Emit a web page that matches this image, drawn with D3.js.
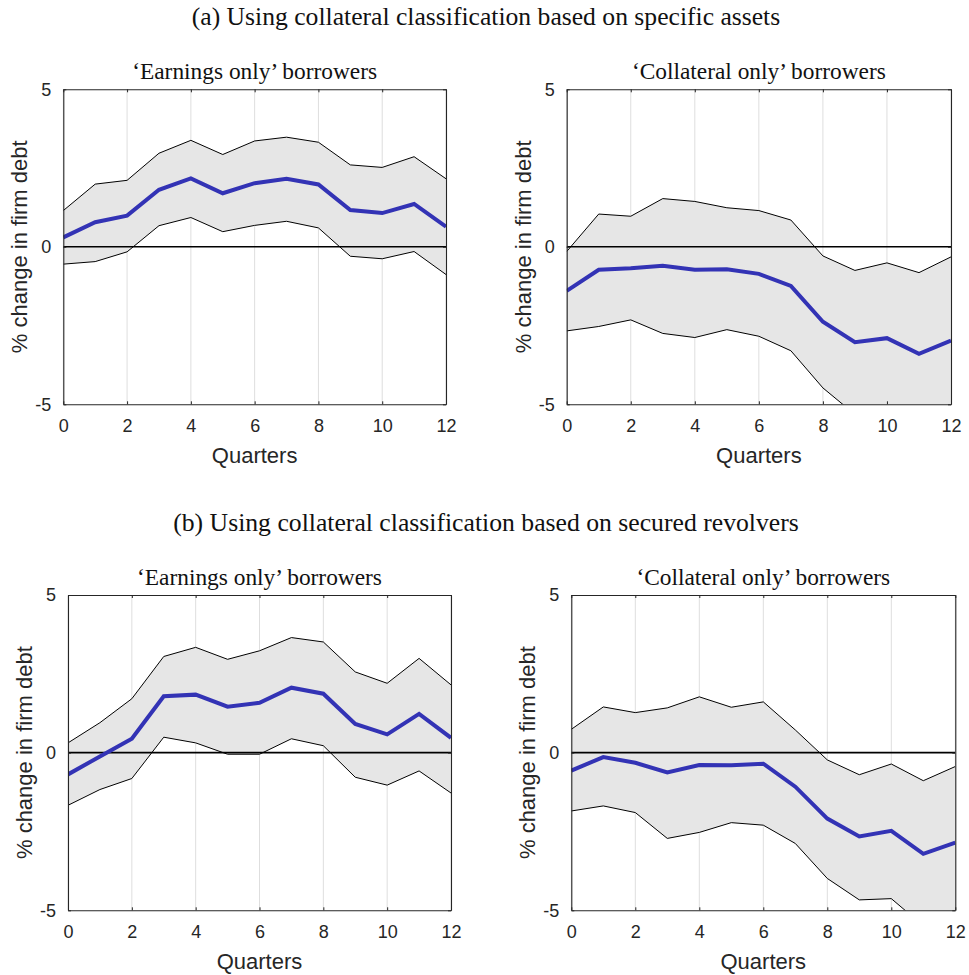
<!DOCTYPE html>
<html>
<head>
<meta charset="utf-8">
<script src="https://cdn.jsdelivr.net/npm/d3@7"></script>
<style>
  html, body { margin: 0; padding: 0; background: #fff; }
  svg { display: block; }
</style>
</head>
<body>
<svg id="chart" width="969" height="975"></svg>
<script>
// Impulse responses of firm debt (%) over 0–12 quarters, with confidence bands
const quarters = [0, 1, 2, 3, 4, 5, 6, 7, 8, 9, 10, 11, 12];
const xTicks = [0, 2, 4, 6, 8, 10, 12];
const yTicks = [-5, 0, 5];

const sectionTitles = [
  "(a) Using collateral classification based on specific assets",
  "(b) Using collateral classification based on secured revolvers"
];
const panelTitles = ["\u2018Earnings only\u2019 borrowers", "\u2018Collateral only\u2019 borrowers"];
const xLabel = "Quarters";
const yLabel = "% change in firm debt";

// (a) Earnings only
const aEarnMean  = [0.30, 0.78, 0.99, 1.81, 2.17, 1.70, 2.02, 2.16, 1.98, 1.17, 1.07, 1.36, 0.64];
const aEarnUpper = [1.15, 1.99, 2.11, 2.97, 3.38, 2.93, 3.36, 3.48, 3.32, 2.60, 2.52, 2.86, 2.16];
const aEarnLower = [-0.55, -0.47, -0.16, 0.67, 0.93, 0.48, 0.68, 0.81, 0.60, -0.30, -0.38, -0.15, -0.88];

// (a) Collateral only
const aCollMean  = [-1.40, -0.73, -0.68, -0.60, -0.73, -0.71, -0.86, -1.24, -2.38, -3.03, -2.90, -3.40, -2.98];
const aCollUpper = [-0.15, 1.04, 0.97, 1.53, 1.44, 1.24, 1.15, 0.85, -0.29, -0.75, -0.51, -0.82, -0.32];
const aCollLower = [-2.67, -2.53, -2.32, -2.75, -2.88, -2.63, -2.84, -3.30, -4.48, -5.32, -5.60, -6.00, -5.80];

// (b) Earnings only
const bEarnMean  = [-0.69, -0.12, 0.44, 1.79, 1.84, 1.46, 1.58, 2.06, 1.87, 0.91, 0.58, 1.23, 0.47];
const bEarnUpper = [0.31, 0.95, 1.71, 3.05, 3.34, 2.96, 3.23, 3.65, 3.51, 2.56, 2.20, 2.99, 2.15];
const bEarnLower = [-1.67, -1.17, -0.82, 0.49, 0.31, -0.05, -0.05, 0.44, 0.22, -0.78, -1.03, -0.58, -1.28];

// (b) Collateral only
const bCollMean  = [-0.57, -0.14, -0.32, -0.63, -0.39, -0.40, -0.35, -1.08, -2.09, -2.66, -2.48, -3.21, -2.85];
const bCollUpper = [0.74, 1.45, 1.27, 1.42, 1.77, 1.44, 1.61, 0.72, -0.23, -0.70, -0.36, -0.89, -0.44];
const bCollLower = [-1.85, -1.69, -1.90, -2.72, -2.53, -2.22, -2.30, -2.88, -3.99, -4.67, -4.63, -5.49, -5.40];

const panels = [
  { title: panelTitles[0], mean: aEarnMean, upper: aEarnUpper, lower: aEarnLower, box: [63.3, 446, 89.3, 404.3] },
  { title: panelTitles[1], mean: aCollMean, upper: aCollUpper, lower: aCollLower, box: [566.7, 951, 89.3, 404.3] },
  { title: panelTitles[0], mean: bEarnMean, upper: bEarnUpper, lower: bEarnLower, box: [68, 451, 595, 910.3] },
  { title: panelTitles[1], mean: bCollMean, upper: bCollUpper, lower: bCollLower, box: [571.3, 955.3, 595, 910.3] }
];

const svg = d3.select("#chart");
const serif = "'Liberation Serif', 'DejaVu Serif', serif";
const sans = "'Liberation Sans', Arial, Helvetica, sans-serif";

// serif heading, sized so that it spans the given width
function heading(parent, cx, baseline, str, width) {
  const t = parent.append("text").attr("x", cx).attr("y", baseline).attr("text-anchor", "middle")
    .attr("font-family", serif).attr("font-size", 20).attr("fill", "#111").text(str);
  const w = t.node().getComputedTextLength();
  if (w > 0) t.attr("font-size", 20 * width / w);
  return t;
}

heading(svg, 486, 25, sectionTitles[0], 589);
heading(svg, 486, 531, sectionTitles[1], 626);

panels.forEach((p, i) => {
  const [x0, x1, y0, y1] = p.box;
  const x = d3.scaleLinear().domain([0, 12]).range([x0, x1]);
  const y = d3.scaleLinear().domain([-5, 5]).range([y1, y0]);
  const g = svg.append("g");

  const clipId = "clip" + i;
  g.append("clipPath").attr("id", clipId)
    .append("rect").attr("x", x0).attr("y", y0).attr("width", x1 - x0).attr("height", y1 - y0);

  // vertical grid lines
  g.selectAll(".grid").data(xTicks).join("line")
    .attr("x1", d => x(d)).attr("x2", d => x(d))
    .attr("y1", y0).attr("y2", y1)
    .attr("stroke", "#dedede").attr("stroke-width", 1);

  const plot = g.append("g").attr("clip-path", `url(#${clipId})`);

  // confidence band
  const band = d3.area()
    .x((d, j) => x(quarters[j]))
    .y0((d, j) => y(p.lower[j]))
    .y1((d, j) => y(p.upper[j]));
  plot.append("path").datum(quarters).attr("d", band)
    .attr("fill", "#e6e6e6").attr("stroke", "none");

  const line = vals => d3.line().x((d, j) => x(quarters[j])).y((d, j) => y(vals[j]))(quarters);
  plot.append("path").attr("d", line(p.upper)).attr("fill", "none").attr("stroke", "#000").attr("stroke-width", 1);
  plot.append("path").attr("d", line(p.lower)).attr("fill", "none").attr("stroke", "#000").attr("stroke-width", 1);

  // zero line
  plot.append("line").attr("x1", x0).attr("x2", x1).attr("y1", y(0)).attr("y2", y(0))
    .attr("stroke", "#000").attr("stroke-width", 1.6);

  // point estimate
  plot.append("path").attr("d", line(p.mean)).attr("fill", "none")
    .attr("stroke", "#3333b5").attr("stroke-width", 4).attr("stroke-linejoin", "miter");

  // axes (box with inward ticks)
  const fmt = d => String(d);
  const xAxis = d3.axisBottom(x).tickValues(xTicks).tickFormat(fmt).tickSizeInner(-3).tickSizeOuter(0).tickPadding(15);
  const yAxis = d3.axisLeft(y).tickValues(yTicks).tickFormat(fmt).tickSizeInner(-3).tickSizeOuter(0).tickPadding(12);
  const xTop = d3.axisTop(x).tickValues(xTicks).tickSizeInner(-3).tickSizeOuter(0).tickFormat("");
  const yRight = d3.axisRight(y).tickValues(yTicks).tickSizeInner(-3).tickSizeOuter(0).tickFormat("");

  const styleAxis = sel => {
    sel.select(".domain").attr("stroke", "#262626").attr("stroke-width", 1.1);
    sel.selectAll(".tick line").attr("stroke", "#262626");
    sel.selectAll(".tick text").attr("font-family", sans).attr("font-size", 18).attr("fill", "#262626");
  };
  g.append("g").attr("transform", `translate(0,${y1})`).call(xAxis).call(styleAxis);
  g.append("g").attr("transform", `translate(${x0},0)`).call(yAxis).call(styleAxis);
  g.append("g").attr("transform", `translate(0,${y0})`).call(xTop).call(styleAxis);
  g.append("g").attr("transform", `translate(${x1},0)`).call(yRight).call(styleAxis);

  // labels
  heading(g, (x0 + x1) / 2, y0 - 10, p.title, i % 2 === 0 ? 245 : 254);
  g.append("text").attr("x", (x0 + x1) / 2).attr("y", y1 + 59).attr("text-anchor", "middle")
    .attr("font-family", sans).attr("font-size", 22).attr("fill", "#262626").text(xLabel);
  g.append("text")
    .attr("transform", `translate(${x0 - 36},${(y0 + y1) / 2}) rotate(-90)`)
    .attr("text-anchor", "middle")
    .attr("font-family", sans).attr("font-size", 22).attr("fill", "#262626").text(yLabel);
});
</script>
</body>
</html>
